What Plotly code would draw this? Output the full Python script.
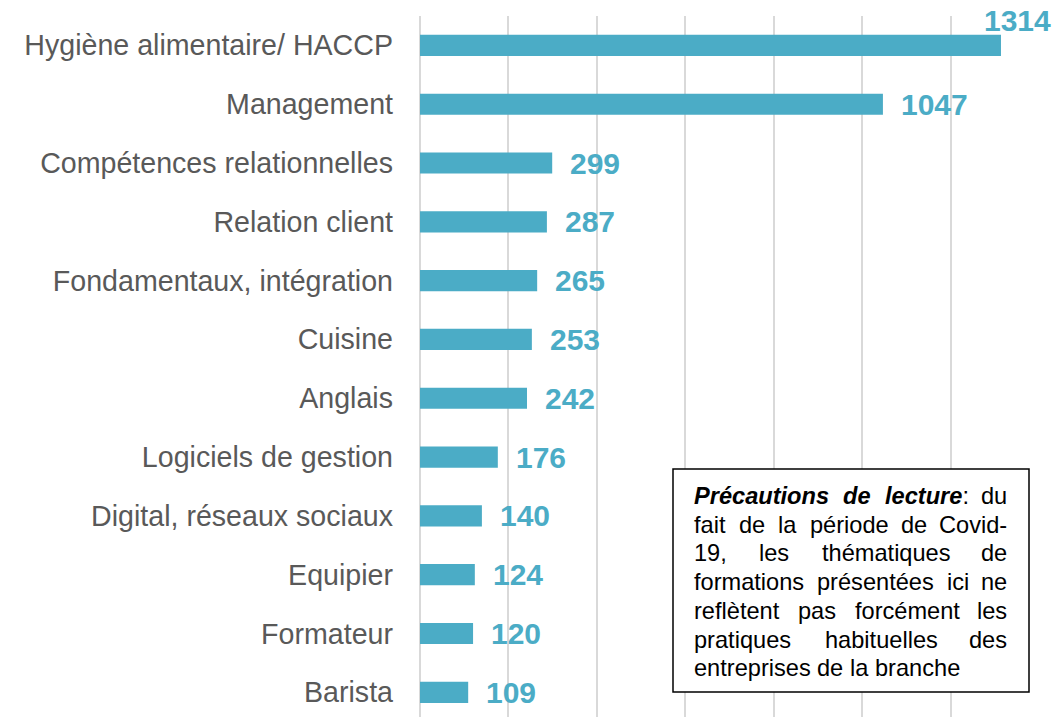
import plotly.graph_objects as go

# Training topics and number of sessions
categories = [
    "Hygiène alimentaire/ HACCP",
    "Management",
    "Compétences relationnelles",
    "Relation client",
    "Fondamentaux, intégration",
    "Cuisine",
    "Anglais",
    "Logiciels de gestion",
    "Digital, réseaux sociaux",
    "Equipier",
    "Formateur",
    "Barista",
]
values = [1314, 1047, 299, 287, 265, 253, 242, 176, 140, 124, 120, 109]

# Reading note (asterisks mark bold italic parts)
note_lines = [
    "*Précautions* *de* *lecture*: du",
    "fait de la période de Covid-",
    "19, les thématiques de",
    "formations présentées ici ne",
    "reflètent pas forcément les",
    "pratiques habituelles des",
    "entreprises de la branche",
]

BAR = "#4BACC6"
LABEL = "#595959"
FONT = "Liberation Sans, Arial, sans-serif"

W, H = 1056, 717
PL, PR, PT, PB = 420, 1039, 16, 717


def px(x):
    return (x - PL) / (PR - PL)


def py(y):
    return (PB - y) / (PB - PT)


# Arial-compatible advance widths (per 1000 em)
W_REG = {" ": 278, ",": 278, "-": 333, ":": 278, "1": 556, "9": 556,
         "a": 556, "b": 556, "c": 500, "d": 556, "e": 556, "f": 278,
         "g": 556, "h": 556, "i": 222, "l": 222, "m": 833, "n": 556,
         "o": 556, "p": 556, "q": 556, "r": 333, "s": 500, "t": 278,
         "u": 556, "v": 500, "C": 722, "P": 667, "é": 556, "è": 556}
W_BOLD = {"a": 556, "c": 556, "d": 611, "e": 556, "é": 556, "i": 278,
          "l": 278, "n": 611, "o": 611, "r": 389, "s": 556, "t": 333,
          "u": 611, "P": 667}


def parse_word(word):
    segs = []
    parts = word.split("*")
    for k, p in enumerate(parts):
        if p:
            segs.append((p, k % 2 == 1))
    return segs


def word_width(segs, fs):
    tot = 0
    for txt, bold in segs:
        for ch in txt:
            tot += (W_BOLD if bold else W_REG).get(ch, 556)
    return tot * fs / 1000


def word_html(segs):
    out = ""
    for txt, bold in segs:
        out += f"<b><i>{txt}</i></b>" if bold else txt
    return out


fig = go.Figure()
fig.add_trace(go.Bar(
    x=values, y=categories, orientation="h",
    marker=dict(color=BAR, line=dict(width=0)),
    width=0.36, hoverinfo="skip",
))

annotations = []
for cat, v in zip(categories, values):
    if v == max(values):
        annotations.append(dict(x=v, y=cat, xref="x", yref="y", text=f"<b>{v}</b>",
                                showarrow=False, xanchor="center", yanchor="middle",
                                xshift=17, yshift=25,
                                font=dict(family=FONT, size=30, color=BAR)))
    else:
        annotations.append(dict(x=v, y=cat, xref="x", yref="y", text=f"<b>{v}</b>",
                                showarrow=False, xanchor="left", yanchor="middle",
                                xshift=16, font=dict(family=FONT, size=30, color=BAR)))

# Justified note text, word by word
FS = 23.6
TX0, TX1 = 693, 1008
LY0, LSTEP = 496, 28.7
for i, line in enumerate(note_lines):
    words = [parse_word(w) for w in line.split(" ")]
    widths = [word_width(s, FS) for s in words]
    last = i == len(note_lines) - 1
    if last or len(words) == 1:
        gap = W_REG[" "] * FS / 1000
    else:
        gap = (TX1 - TX0 - sum(widths)) / (len(words) - 1)
    x = TX0
    yc = LY0 + i * LSTEP
    for j, (segs, w) in enumerate(zip(words, widths)):
        if not last and j == len(words) - 1 and len(words) > 1:
            ax, anc = TX1, "right"
        else:
            ax, anc = x, "left"
        annotations.append(dict(x=px(ax), y=py(yc), xref="paper", yref="paper",
                                text=word_html(segs), showarrow=False,
                                xanchor=anc, yanchor="middle", borderpad=0,
                                font=dict(family=FONT, size=FS, color="#000000")))
        x += w + gap

fig.update_layout(
    width=W, height=H,
    margin=dict(l=PL, r=W - PR, t=PT, b=H - PB, pad=0),
    paper_bgcolor="white", plot_bgcolor="white",
    showlegend=False,
    bargap=0.64,
    xaxis=dict(range=[0, 1400], dtick=200, tick0=0, showticklabels=False,
               showgrid=True, gridcolor="#D9D9D9", gridwidth=1.5,
               zeroline=True, zerolinecolor="#D9D9D9", zerolinewidth=1.5,
               showline=False, fixedrange=True),
    yaxis=dict(type="category", categoryorder="array", categoryarray=categories,
               range=[11.42, -0.5], showgrid=False, zeroline=False, showline=False,
               ticks="", ticklabelstandoff=26,
               tickfont=dict(family=FONT, size=28.6, color=LABEL), fixedrange=True),
    shapes=[dict(type="rect", xref="paper", yref="paper",
                 x0=px(673), x1=px(1029), y0=py(692), y1=py(469),
                 line=dict(color="#000000", width=1.5), fillcolor="white",
                 layer="above")],
    annotations=annotations,
)

fig.write_html("out.html")
